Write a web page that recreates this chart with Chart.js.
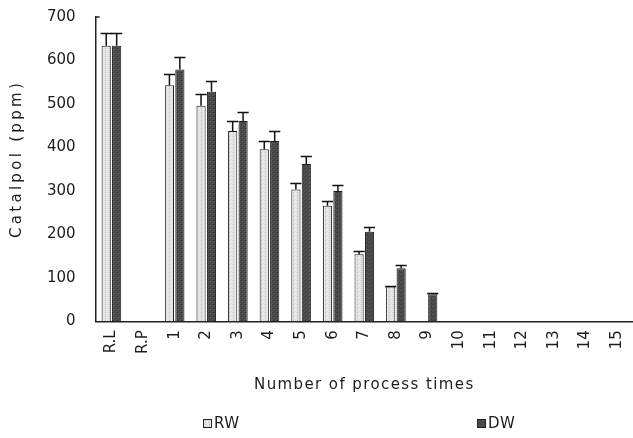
<!DOCTYPE html>
<html>
<head>
<meta charset="utf-8">
<script src="https://cdn.jsdelivr.net/npm/chart.js@4.4.1/dist/chart.umd.min.js"></script>
<style>
  html, body { margin: 0; padding: 0; background: #ffffff; }
  #wrap { width: 633px; height: 438px; }
</style>
</head>
<body>
<div id="wrap"><canvas id="c" width="633" height="438"></canvas></div>
<script>
// ---- data ----
const categories = ['R.L', 'R.P', '1', '2', '3', '4', '5', '6', '7', '8', '9', '10', '11', '12', '13', '14', '15'];
const seriesNames = ['RW', 'DW'];
const rwValues = [634, null, 543, 496, 438, 396, 303, 266, 154, 80, null, null, null, null, null, null, null];
const dwValues = [634, null, 579, 528, 461, 415, 362, 300, 206, 122, 62, null, null, null, null, null, null];
const rwErrors = [29, null, 26, 26, 23, 19, 16, 11, 8, 2, null, null, null, null, null, null, null];
const dwErrors = [29, null, 30, 24, 21, 23, 19, 13, 10, 7, 2, null, null, null, null, null, null];
const yTicks = [0, 100, 200, 300, 400, 500, 600, 700];
const xTitle = 'Number of process times';
const yTitle = 'Catalpol (ppm)';

// ---- textures ----
function makePattern(base, dots) {
  const p = document.createElement('canvas');
  p.width = 4; p.height = 4;
  const g = p.getContext('2d');
  g.fillStyle = base; g.fillRect(0, 0, 4, 4);
  dots.forEach(d => { g.fillStyle = d[2]; g.fillRect(d[0], d[1], 1, 1); });
  return g.createPattern(p, 'repeat');
}
const ctx = document.getElementById('c').getContext('2d');
const rwFill = makePattern('#e4e4e4', [[1, 0, '#bdbdbd'], [1, 2, '#cacaca'], [3, 1, '#f2f2f2']]);
const dwFill = makePattern('#4c4c4c', [[1, 0, '#2e2e2e'], [3, 2, '#383838'], [2, 1, '#606060']]);
const errors = [rwErrors, dwErrors];
const fills = [rwFill, dwFill];
const FONT = '"DejaVu Sans", sans-serif';
const TEXT = '#1c1c1c';

const errorBarPlugin = {
  id: 'errorBars',
  afterDatasetsDraw(chart) {
    const c = chart.ctx;
    const ys = chart.scales.y;
    c.save();
    c.strokeStyle = '#111';
    c.lineWidth = 1.5;
    chart.data.datasets.forEach((ds, di) => {
      const meta = chart.getDatasetMeta(di);
      meta.data.forEach((el, i) => {
        const v = ds.data[i];
        const e = errors[di][i];
        if (v == null || e == null) return;
        const yTop = Math.round(ys.getPixelForValue(v + e)) + 0.5;
        const half = el.width / 2 + 1;
        c.beginPath();
        c.moveTo(el.x, el.y);
        c.lineTo(el.x, yTop);
        c.moveTo(el.x - half, yTop);
        c.lineTo(el.x + half, yTop);
        c.stroke();
      });
    });
    c.restore();
  }
};

const textPlugin = {
  id: 'texts',
  afterDraw(chart) {
    const c = chart.ctx;
    const a = chart.chartArea;
    const cx = (a.left + a.right) / 2;
    c.save();
    c.fillStyle = TEXT;
    c.textBaseline = 'middle';
    // small inward tick at the top of the value axis
    c.strokeStyle = '#222';
    c.lineWidth = 1.5;
    c.beginPath();
    c.moveTo(a.left, a.top);
    c.lineTo(a.left + 4, a.top);
    c.stroke();
    // x title
    c.font = '15px ' + FONT;
    c.letterSpacing = '1.4px';
    c.textAlign = 'center';
    c.fillText(xTitle, cx, 385);
    // y title
    c.save();
    c.translate(17, 159);
    c.rotate(-Math.PI / 2);
    c.letterSpacing = '3.3px';
    c.fillText(yTitle, 0, 0);
    c.restore();
    // legend
    c.letterSpacing = '0.5px';
    c.textAlign = 'left';
    const legendX = [cx - 161, cx + 113];
    seriesNames.forEach((name, i) => {
      const bx = Math.round(legendX[i]);
      c.fillStyle = fills[i];
      c.fillRect(bx, 419, 8, 8);
      c.strokeStyle = '#222';
      c.lineWidth = 1;
      c.strokeRect(bx + 0.5, 419.5, 8, 8);
      c.fillStyle = TEXT;
      c.fillText(name, bx + 11, 424);
    });
    c.restore();
  }
};

new Chart(ctx, {
  type: 'bar',
  data: {
    labels: categories,
    datasets: [
      { label: seriesNames[0], data: rwValues, backgroundColor: rwFill, borderColor: '#1a1a1a', borderWidth: 1,
        categoryPercentage: 0.66, barPercentage: 0.88 },
      { label: seriesNames[1], data: dwValues, backgroundColor: dwFill, borderColor: '#1a1a1a', borderWidth: 1,
        categoryPercentage: 0.66, barPercentage: 0.88 }
    ]
  },
  options: {
    responsive: false,
    animation: false,
    events: [],
    layout: { padding: { left: 27, top: 17, right: 0, bottom: 75 } },
    plugins: { legend: { display: false }, tooltip: { enabled: false }, title: { display: false } },
    scales: {
      x: {
        grid: { display: false, drawTicks: false },
        border: { display: true, color: '#222', width: 1.5 },
        afterFit(scale) { scale.paddingLeft = 0; scale.paddingRight = 0; },
        ticks: { autoSkip: false, minRotation: 90, maxRotation: 90, padding: 9, color: TEXT,
                 font: { family: FONT, size: 15 } }
      },
      y: {
        min: 0, max: 700,
        afterBuildTicks(scale) { scale.ticks = yTicks.map(v => ({ value: v })); },
        afterFit(scale) { scale.paddingTop = 0; scale.paddingBottom = 0; },
        grid: { display: false, drawTicks: false },
        border: { display: true, color: '#222', width: 1.5 },
        ticks: { padding: 20, color: TEXT, font: { family: FONT, size: 15 } }
      }
    }
  },
  plugins: [errorBarPlugin, textPlugin]
});
</script>
</body>
</html>
